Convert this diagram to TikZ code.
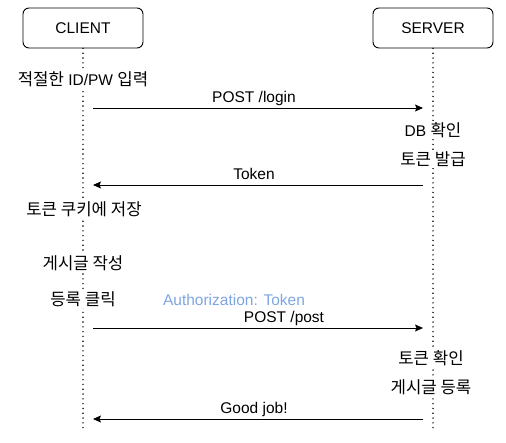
\documentclass[tikz,border=0pt]{standalone}
\usepackage{fontspec}
\setmainfont{Liberation Sans}
\newfontfamily\kr[Scale=1.08]{Noto Sans CJK KR}
\usetikzlibrary{arrows.meta,positioning}
\definecolor{authblue}{HTML}{7EA6E0}

\begin{document}
\begin{tikzpicture}[
    x=1pt, y=-1pt,
    font=\fontsize{15.5}{18}\selectfont,
    actor/.style={rectangle, draw, rounded corners=6pt, minimum width=120pt, minimum height=40pt, line width=0.9pt},
    lifeline/.style={line width=1.6pt, dash pattern=on 0pt off 4.8pt, line cap=round},
    msg/.style={-{Stealth[length=8pt,width=7pt,inset=1.5pt]}, line width=0.9pt, shorten <=10pt, shorten >=10pt},
    msglabel/.style={anchor=base, inner sep=0pt, yshift=5.5pt, xshift=-4pt},
    note/.style={fill=white, inner sep=1.5pt},
]
\useasboundingbox (0,0) rectangle (506,443);
% Actors
\node[actor] (client) at (83,28) {CLIENT};
\node[actor] (server) at (433,28) {SERVER};
% Lifelines
\coordinate (clientEnd) at (83,430);
\coordinate (serverEnd) at (433,430);
\draw[lifeline] (client.south) -- (clientEnd);
\draw[lifeline] (server.south) -- (serverEnd);

% Client notes
\node[note] (login) at (83,79) {{\kr 적절한} ID/PW {\kr 입력}};
\node[note] (save) at (84,209) {\kr 토큰 쿠키에 저장};
\node[note] (write) at (83,263) {\kr 게시글 작성};
\node[note] (click) at (83,299) {\kr 등록 클릭};
% Server notes
\node[note] (dbcheck) at (433,130) {DB {\kr 확인}};
\node[note] (issue) at (433,159) {\kr 토큰 발급};
\node[note] (tokcheck) at (431,358) {\kr 토큰 확인};
\node[note] (register) at (431,387) {\kr 게시글 등록};

% Messages
\coordinate (c1) at (83,108); \coordinate (s1) at (433,108);
\coordinate (c2) at (83,185); \coordinate (s2) at (433,185);
\coordinate (c3) at (83,328); \coordinate (s3) at (433,328);
\coordinate (c4) at (83,419); \coordinate (s4) at (433,419);
\node[msglabel, xshift=4pt, text=authblue] (auth) at (234,311) {Authorization: Token};
\draw[msg] (c1) -- node[msglabel] (m1) {POST /login} (s1);
\draw[msg] (s2) -- node[msglabel] (m2) {Token} (c2);
\draw[msg] (c3) -- node[msglabel, xshift=30pt] (m3) {POST /post} (s3);
\draw[msg] (s4) -- node[msglabel] (m4) {Good job!} (c4);
\end{tikzpicture}
\end{document}
